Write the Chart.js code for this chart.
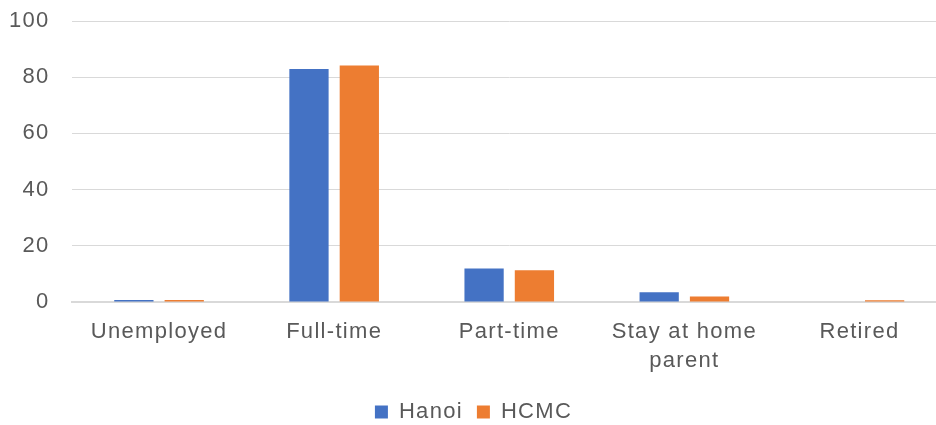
<!DOCTYPE html>
<html>
<head>
<meta charset="utf-8">
<script src="https://cdn.jsdelivr.net/npm/chart.js@4/dist/chart.umd.min.js"></script>
<style>
    html, body { margin: 0; padding: 0; background: #fff; overflow: hidden; }
    #wrap { width: 948px; height: 433px; }
</style>
</head>
<body>
<div id="wrap"><canvas id="barChart"></canvas></div>
<script>
    // Data
    const categories = ["Unemployed", "Full-time", "Part-time", ["Stay at home", "parent"], "Retired"];
    const hanoi = [0.7, 82.9, 11.9, 3.5, 0];
    const hcmc = [0.7, 84.2, 11.3, 2.0, 0.6];
    const yTicks = [0, 20, 40, 60, 80, 100];

    const textColor = "#595959";
    const gridColor = "#d9d9d9";
    const font = { family: "'Liberation Sans', Arial, sans-serif", size: 22 };

    // canvas state gets reset on resize, so set the spacing before layout and draw
    const spacing = {
        id: "spacing",
        beforeLayout: (chart) => { chart.ctx.letterSpacing = "1.3px"; },
        beforeDraw: (chart) => { chart.ctx.letterSpacing = "1.3px"; },
    };

    const ctx = document.getElementById("barChart").getContext("2d");
    new Chart(ctx, {
        type: "bar",
        data: {
            labels: categories,
            datasets: [
                { label: "Hanoi", data: hanoi, backgroundColor: "#4472C4" },
                { label: "HCMC", data: hcmc, backgroundColor: "#ED7D31" },
            ],
        },
        options: {
            responsive: true,
            maintainAspectRatio: false,
            animation: false,
            layout: { padding: { top: 21, right: 1, bottom: 0, left: 0 } },
            datasets: {
                bar: { categoryPercentage: 0.575, barPercentage: 0.78 },
            },
            scales: {
                x: {
                    grid: { display: false, drawTicks: false },
                    border: { display: true, color: gridColor, width: 2 },
                    ticks: { color: textColor, font: { ...font, lineHeight: 1.3 }, padding: 16, maxRotation: 0, autoSkip: false },
                    afterFit: (scale) => { scale.height = 85; },
                },
                y: {
                    min: 0,
                    max: 100,
                    afterBuildTicks: (scale) => { scale.ticks = yTicks.map((v) => ({ value: v })); },
                    grid: { color: gridColor, drawTicks: false },
                    border: { display: false },
                    ticks: { color: textColor, font: font, padding: 22 },
                    afterFit: (scale) => {
                        scale.width = 71.5;
                        scale.paddingTop = 0;
                        scale.paddingBottom = 0;
                    },
                },
            },
            plugins: {
                legend: {
                    position: "bottom",
                    labels: { color: textColor, font: font, boxWidth: 13, boxHeight: 13, padding: 14 },
                },
                tooltip: { enabled: false },
            },
        },
        plugins: [spacing],
    });
</script>
</body>
</html>
